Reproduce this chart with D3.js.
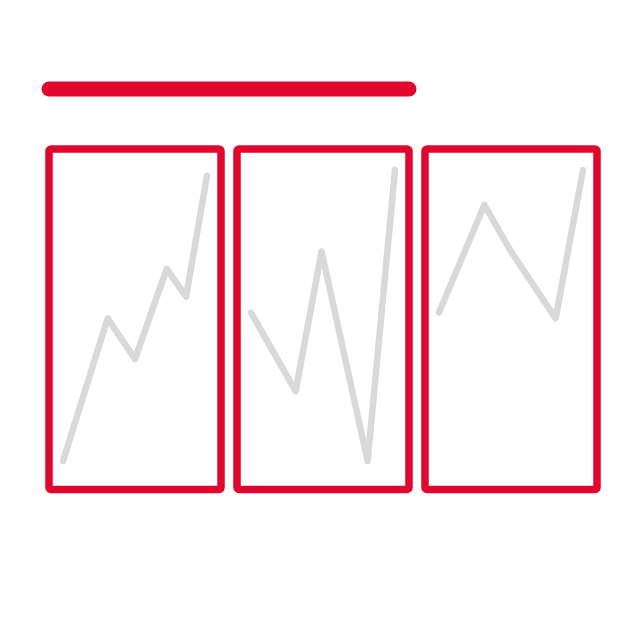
<!DOCTYPE html>
<html>
<head>
<meta charset="utf-8">
<script src="https://cdn.jsdelivr.net/npm/d3@7"></script>
<style>
  html, body { margin: 0; padding: 0; background: #fff; }
  svg { display: block; }
</style>
</head>
<body>
<svg id="chart" width="639" height="639"></svg>
<script>
const panels = ['A', 'B', 'C'];

// x position within a panel (0..1), y value (0..100)
const xA = [0, 0.31, 0.5, 0.72, 0.855, 1];
const yA = [0, 49, 35, 66, 56.5, 98];
const xB = [0, 0.31, 0.49, 0.81, 1];
const yB = [51, 24, 72, 0, 100];
const xC = [0, 0.315, 0.5, 0.81, 1];
const yC = [51, 88, 72, 49, 100];

const seriesX = [xA, xB, xC];
const seriesY = [yA, yB, yC];

const red = '#e0062d';
const grey = '#d9d9d9';

const svg = d3.select('#chart');

const panelScale = d3.scaleBand()
    .domain(panels)
    .range([49, 597])
    .paddingInner(16 / 188);

const panelTop = 149;
const panelBottom = 489.5;

const yScale = d3.scaleLinear().domain([0, 100]).range([461, 170]);
const xScale = d3.scaleLinear().domain([0, 1]).range([14, 158]);

// title bar spans first two panels
svg.append('line')
    .attr('x1', panelScale('A'))
    .attr('x2', panelScale('B') + panelScale.bandwidth())
    .attr('y1', 89)
    .attr('y2', 89)
    .attr('stroke', red)
    .attr('stroke-width', 15)
    .attr('stroke-linecap', 'round');

const line = d3.line()
    .x(d => xScale(d[0]))
    .y(d => yScale(d[1]));

const g = svg.selectAll('g.panel')
    .data(panels)
    .join('g')
    .attr('class', 'panel')
    .attr('transform', d => `translate(${panelScale(d)},0)`);

g.append('path')
    .attr('d', (d, i) => line(seriesX[i].map((x, j) => [x, seriesY[i][j]])))
    .attr('fill', 'none')
    .attr('stroke', grey)
    .attr('stroke-width', 6.5)
    .attr('stroke-linecap', 'round')
    .attr('stroke-linejoin', 'round');

g.append('rect')
    .attr('x', 0)
    .attr('y', panelTop)
    .attr('width', panelScale.bandwidth())
    .attr('height', panelBottom - panelTop)
    .attr('rx', 2)
    .attr('fill', 'none')
    .attr('stroke', red)
    .attr('stroke-width', 7.5);
</script>
</body>
</html>
